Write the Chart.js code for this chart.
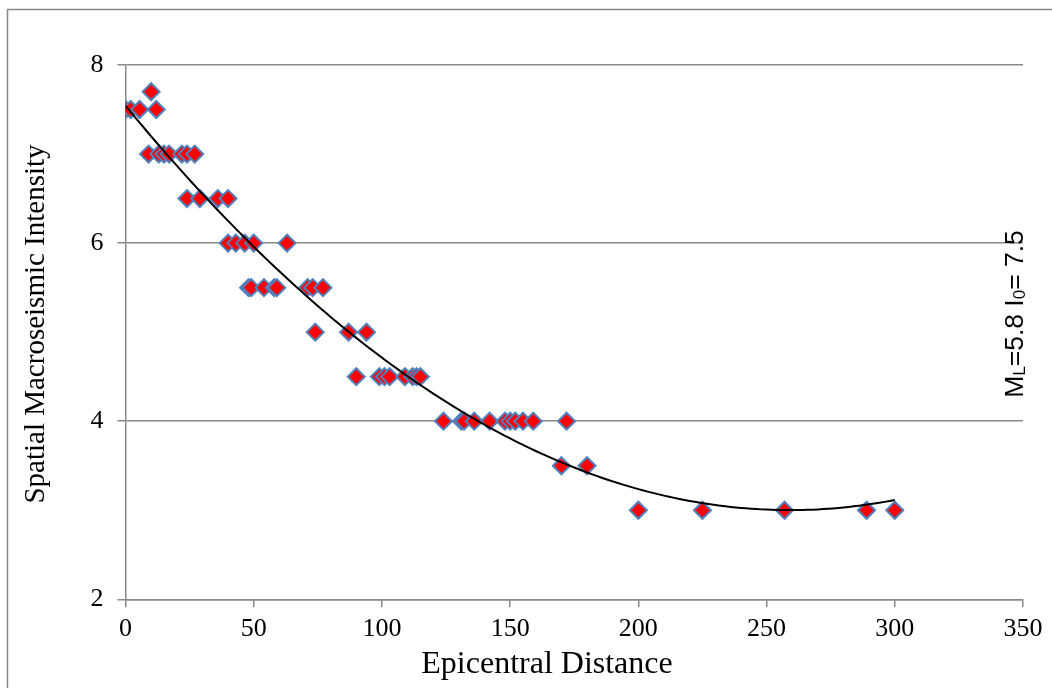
<!DOCTYPE html>
<html>
<head>
<meta charset="utf-8">
<script src="https://cdn.jsdelivr.net/npm/chart.js@4.4.1/dist/chart.umd.min.js"></script>
<style>
  html, body { margin: 0; padding: 0; background: #ffffff; }
  #wrap { width: 1052px; height: 688px; position: relative; }
</style>
</head>
<body>
<div id="wrap"><canvas id="c" width="1052" height="688"></canvas></div>
<script>
// ---- data ----
const distance = [
  0, 2, 5.5, 12,
  10,
  9, 13, 15, 17, 22, 24, 27,
  24, 29, 36, 40,
  40, 43, 46.5, 50, 63,
  48, 49, 54, 58, 59, 71, 73, 77,
  74, 87, 94,
  90, 99, 101, 103, 109, 112, 113.5, 115,
  124, 131, 132, 136, 142, 148, 150, 152, 155, 159, 172,
  170, 180,
  200, 225, 257, 289, 300
];
const intensity = [
  7.5, 7.5, 7.5, 7.5,
  7.7,
  7, 7, 7, 7, 7, 7, 7,
  6.5, 6.5, 6.5, 6.5,
  6, 6, 6, 6, 6,
  5.5, 5.5, 5.5, 5.5, 5.5, 5.5, 5.5, 5.5,
  5, 5, 5,
  4.5, 4.5, 4.5, 4.5, 4.5, 4.5, 4.5, 4.5,
  4, 4, 4, 4, 4, 4, 4, 4, 4, 4, 4,
  3.5, 3.5,
  3, 3, 3, 3, 3
];
const xTicks = [0, 50, 100, 150, 200, 250, 300, 350];
const yTicks = [2, 4, 6, 8];
const xTitle = 'Epicentral Distance';
const yTitle = 'Spatial Macroseismic Intensity';

// ---- quadratic least-squares trendline (like the spreadsheet's polynomial trendline) ----
function polyFit2(xs, ys) {
  let n = xs.length, s = [0,0,0,0,0], t = [0,0,0];
  for (let i = 0; i < n; i++) {
    const x = xs[i], y = ys[i];
    let p = 1;
    for (let k = 0; k < 5; k++) { s[k] += p; if (k < 3) t[k] += p * y; p *= x; }
  }
  const A = [[s[0], s[1], s[2], t[0]], [s[1], s[2], s[3], t[1]], [s[2], s[3], s[4], t[2]]];
  for (let i = 0; i < 3; i++) {
    for (let j = i + 1; j < 3; j++) {
      const f = A[j][i] / A[i][i];
      for (let k = i; k < 4; k++) A[j][k] -= f * A[i][k];
    }
  }
  const c = [0,0,0];
  for (let i = 2; i >= 0; i--) {
    let v = A[i][3];
    for (let k = i + 1; k < 3; k++) v -= A[i][k] * c[k];
    c[i] = v / A[i][i];
  }
  return c;
}
const coef = polyFit2(distance, intensity);
const xMin = Math.min(...distance), xMax = Math.max(...distance);
const trend = [];
for (let i = 0; i <= 150; i++) {
  const x = xMin + (xMax - xMin) * i / 150;
  trend.push({ x: x, y: coef[0] + coef[1] * x + coef[2] * x * x });
}
const points = distance.map((d, i) => ({ x: d, y: intensity[i] }));

const GRID = '#888888';

const frame = {
  id: 'frame',
  beforeDraw(chart) {
    const ctx = chart.ctx;
    ctx.save();
    ctx.strokeStyle = '#868686';
    ctx.lineWidth = 1.5;
    ctx.beginPath();
    ctx.moveTo(7.5, 688);
    ctx.lineTo(7.5, 9.5);
    ctx.lineTo(1052, 9.5);
    ctx.stroke();
    ctx.restore();
  },
  afterDraw(chart) {
    const ctx = chart.ctx;
    ctx.save();
    ctx.fillStyle = '#000';
    // axis titles
    ctx.textAlign = 'center';
    ctx.textBaseline = 'middle';
    ctx.font = '32px "Liberation Serif", "Times New Roman", serif';
    ctx.fillText(xTitle, 547, 665);
    ctx.save();
    ctx.translate(36, 324);
    ctx.rotate(-Math.PI / 2);
    ctx.font = '29px "Liberation Serif", "Times New Roman", serif';
    ctx.fillText(yTitle, 0, 0);
    ctx.restore();
    // annotation with subscripts
    ctx.save();
    ctx.translate(1014, 314);
    ctx.rotate(-Math.PI / 2);
    const big = '26.5px "Liberation Sans", Arial, sans-serif';
    const small = '17px "Liberation Sans", Arial, sans-serif';
    const parts = [
      ['M', big, 0], ['L', small, 2], ['=5.8 I', big, 0], ['0', small, 2], ['= 7.5', big, 0]
    ];
    let total = 0;
    parts.forEach(p => { ctx.font = p[1]; total += ctx.measureText(p[0]).width; });
    let x = -total / 2;
    ctx.textAlign = 'left';
    ctx.textBaseline = 'alphabetic';
    parts.forEach(p => {
      ctx.font = p[1];
      ctx.fillText(p[0], x, 9 + p[2]);
      x += ctx.measureText(p[0]).width;
    });
    ctx.restore();
    ctx.restore();
  }
};

new Chart(document.getElementById('c'), {
  type: 'scatter',
  data: {
    datasets: [
      {
        type: 'line',
        label: 'Trend',
        data: trend,
        borderColor: '#000000',
        borderWidth: 2,
        pointRadius: 0,
        fill: false,
        tension: 0
      },
      {
        label: 'Intensity',
        data: points,
        pointStyle: 'rectRot',
        pointRadius: 8.5,
        pointHoverRadius: 8.5,
        backgroundColor: '#ff0000',
        borderColor: '#4f81bd',
        borderWidth: 2
      }
    ]
  },
  plugins: [frame],
  options: {
    responsive: false,
    animation: false,
    events: [],
    layout: { padding: { left: 0, right: 29, top: 65, bottom: 0 } },
    plugins: { legend: { display: false }, tooltip: { enabled: false } },
    scales: {
      x: {
        type: 'linear',
        min: 0, max: 350,
        afterBuildTicks(scale) { scale.ticks = xTicks.map(v => ({ value: v })); },
        afterFit(scale) { scale.height = 88.7; },
        grid: { drawOnChartArea: false, drawTicks: true, tickLength: 8, color: GRID, lineWidth: 1.5 },
        border: { display: true, color: GRID, width: 1.5 },
        ticks: {
          color: '#000',
          padding: 6,
          font: { family: '"Liberation Serif", "Times New Roman", serif', size: 26 }
        }
      },
      y: {
        type: 'linear',
        min: 2, max: 8,
        afterBuildTicks(scale) { scale.ticks = yTicks.map(v => ({ value: v })); },
        afterFit(scale) { scale.width = 125.5; },
        grid: { drawOnChartArea: true, drawTicks: true, tickLength: 8, color: GRID, lineWidth: 1.5 },
        border: { display: true, color: GRID, width: 1.5 },
        ticks: {
          color: '#000',
          padding: 14,
          font: { family: '"Liberation Serif", "Times New Roman", serif', size: 26 }
        }
      }
    }
  }
});
</script>
</body>
</html>
